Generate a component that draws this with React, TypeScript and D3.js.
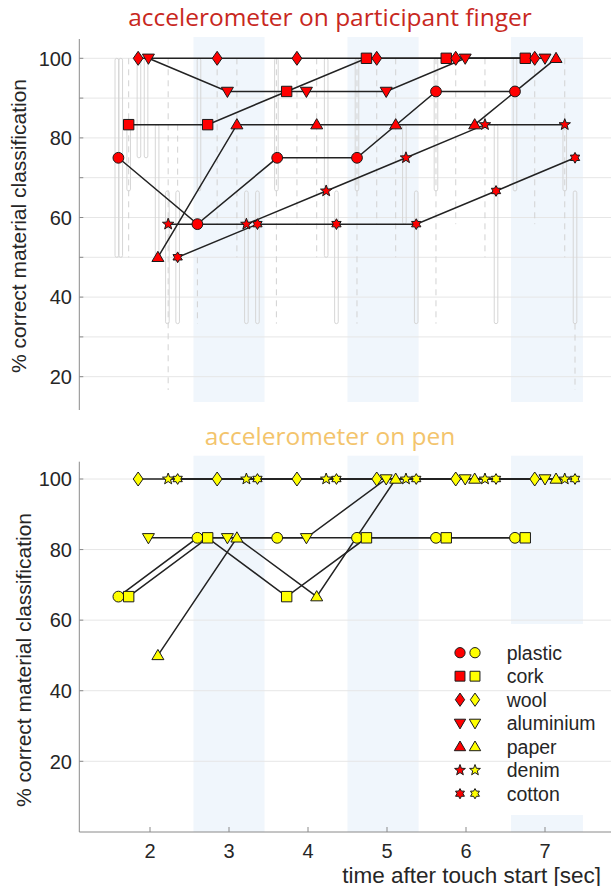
import React from 'react';
import * as d3 from 'd3';

// ---------- data ----------
const materials = ['plastic', 'cork', 'wool', 'aluminium', 'paper', 'denim', 'cotton'];
const markerShapes = ['circle', 'square', 'diamond', 'triDown', 'triUp', 'star', 'hexagram'];

const timesPlastic = [1.6, 2.6, 3.61, 4.62, 5.62, 6.62];
const timesCork = [1.73, 2.73, 3.73, 4.74, 5.75, 6.75];
const timesWool = [1.85, 2.85, 3.86, 4.87, 5.87, 6.87];
const timesAluminium = [1.98, 2.98, 3.98, 4.99, 5.99, 7.0];
const timesPaper = [2.1, 3.1, 4.11, 5.11, 6.11, 7.14];
const timesDenim = [2.23, 3.22, 4.23, 5.24, 6.24, 7.25];
const timesCotton = [2.35, 3.36, 4.36, 5.37, 6.38, 7.38];

const fingerPlastic = [75, 58.33, 75, 75, 91.67, 91.67];
const fingerCork = [83.33, 83.33, 91.67, 100, 100, 100];
const fingerWool = [100, 100, 100, 100, 100, 100];
const fingerAluminium = [100, 91.67, 91.67, 91.67, 100, 100];
const fingerPaper = [50, 83.33, 83.33, 83.33, 83.33, 100];
const fingerDenim = [58.33, 58.33, 66.67, 75, 83.33, 83.33];
const fingerCotton = [50, 58.33, 58.33, 58.33, 66.67, 75];

const penPlastic = [66.67, 83.33, 83.33, 83.33, 83.33, 83.33];
const penCork = [66.67, 83.33, 66.67, 83.33, 83.33, 83.33];
const penWool = [100, 100, 100, 100, 100, 100];
const penAluminium = [83.33, 83.33, 83.33, 100, 100, 100];
const penPaper = [50, 83.33, 66.67, 100, 100, 100];
const penDenim = [100, 100, 100, 100, 100, 100];
const penCotton = [100, 100, 100, 100, 100, 100];

const bandStart = [2.55, 4.5, 6.57];
const bandEnd = [3.45, 5.4, 7.48];

const xTicks = [2, 3, 4, 5, 6, 7];
const yTicksTop = [20, 30, 40, 50, 60, 70, 80, 90, 100];
const yLabelsTop = [20, 40, 60, 80, 100];
const yTicksBottom = [20, 40, 60, 80, 100];

// faint per-participant range capsules (top panel): time, upper %, lower %
const capsuleTime = [1.58, 1.63, 1.73, 1.86, 1.95, 2.09, 2.22, 2.35, 2.62, 3.22, 3.36, 3.6, 4.23, 4.36, 4.62, 5.22, 5.37, 5.62, 6.38, 6.62, 7.25, 7.38];
const capsuleHigh = [100, 100, 83.33, 100, 100, 83.33, 66.67, 66.67, 100, 66.67, 66.67, 100, 100, 66.67, 100, 83.33, 66.67, 100, 83.33, 100, 83.33, 66.67];
const capsuleLow = [50, 50, 66.67, 75, 75, 50, 33.33, 33.33, 66.67, 33.33, 33.33, 66.67, 50, 33.33, 66.67, 58.33, 33.33, 66.67, 33.33, 66.67, 66.67, 33.33];
// faint dashed range lines (top panel)
const dashTime = [1.73, 2.23, 2.35, 2.6, 2.85, 3.1, 3.6, 3.86, 4.11, 4.62, 4.87, 5.11, 5.62, 5.87, 6.24, 6.87, 7.25, 7.38];
const dashHigh = [100, 100, 83.33, 50, 100, 100, 100, 100, 100, 100, 100, 100, 100, 100, 100, 100, 100, 33.33];
const dashLow = [50, 16.67, 66.67, 33.33, 58.33, 50, 33.33, 58.33, 50, 33.33, 58.33, 50, 33.33, 58.33, 50, 58.33, 50, 16.67];

const matTimes = [timesPlastic, timesCork, timesWool, timesAluminium, timesPaper, timesDenim, timesCotton];
const fingerVals = [fingerPlastic, fingerCork, fingerWool, fingerAluminium, fingerPaper, fingerDenim, fingerCotton];
const penVals = [penPlastic, penCork, penWool, penAluminium, penPaper, penDenim, penCotton];

// ---------- geometry ----------
const W = 611;
const H = 886;
const AXIS_X = 79.3;
const RIGHT = 611;
const x = d3.scaleLinear().domain([2, 7]).range([150, 545]);
const yTop = d3.scaleLinear().domain([20, 100]).range([376.7, 58.3]);
const yBot = d3.scaleLinear().domain([20, 100]).range([761.3, 479]);

const RED = '#ff0000';
const YELLOW = '#ffff00';
const EDGE = '#1a1a1a';
const GRID = '#e6e6e6';
const AXIS = '#8a8a8a';
const TXT = '#262626';
const BAND = '#f0f6fc';
const FONT = '"Liberation Sans", Arial, sans-serif';
const TITLE_FONT = '"Open Sans", sans-serif';

function starPath(outer: number, inner: number, n: number) {
  const pts: [number, number][] = [];
  for (let i = 0; i < 2 * n; i++) {
    const r = i % 2 === 0 ? outer : inner;
    const a = (Math.PI * i) / n - Math.PI / 2;
    pts.push([r * Math.cos(a), r * Math.sin(a)]);
  }
  return 'M' + pts.map((p) => p[0].toFixed(2) + ',' + p[1].toFixed(2)).join('L') + 'Z';
}

function shapePath(shape: string, s = 1) {
  switch (shape) {
    case 'circle':
      return d3.symbol(d3.symbolCircle, Math.PI * 5.4 * 5.4 * s * s)() as string;
    case 'square': {
      const h = 5.2 * s;
      return `M${-h},${-h}H${h}V${h}H${-h}Z`;
    }
    case 'diamond':
      return `M0,${-7 * s}L${4.9 * s},0L0,${7 * s}L${-4.9 * s},0Z`;
    case 'triDown':
      return `M${-6 * s},${-4.2 * s}L${6 * s},${-4.2 * s}L0,${6 * s}Z`;
    case 'triUp':
      return `M0,${-6 * s}L${6 * s},${4.2 * s}L${-6 * s},${4.2 * s}Z`;
    case 'star':
      return starPath(6 * s, 2.5 * s, 5);
    case 'hexagram':
      return starPath(5.4 * s, 3.1 * s, 6);
    default:
      return '';
  }
}

function Panel({ vals, y, fill }: { vals: number[][]; y: d3.ScaleLinear<number, number>; fill: string }) {
  const line = d3
    .line<[number, number]>()
    .x((d) => x(d[0]))
    .y((d) => y(d[1]));
  return (
    <g>
      {vals.map((v, m) => (
        <path
          key={'l' + m}
          d={line(matTimes[m].map((t, i) => [t, v[i]] as [number, number])) as string}
          fill="none"
          stroke="#222"
          strokeWidth={1.5}
        />
      ))}
      {vals.map((v, m) =>
        v.map((val, i) => (
          <path
            key={'m' + m + '-' + i}
            d={shapePath(markerShapes[m])}
            transform={`translate(${x(matTimes[m][i])},${y(val)})`}
            fill={fill}
            stroke={EDGE}
            strokeWidth={1}
          />
        ))
      )}
    </g>
  );
}

export default function App() {
  const legendY0 = 652.7;
  const legendDy = 23.5;
  return (
    <svg width={W} height={H} style={{ display: 'block', position: 'absolute', left: 0, top: 0 }}>
      <rect x={0} y={0} width={W} height={H} fill="#fff" />

      {/* bands top */}
      {bandStart.map((b, i) => (
        <rect key={'bt' + i} x={x(b)} y={37} width={x(bandEnd[i]) - x(b)} height={402 - 37} fill={BAND} />
      ))}
      {/* bands bottom */}
      {bandStart.map((b, i) =>
        i < 2 ? (
          <rect key={'bb' + i} x={x(b)} y={455.7} width={x(bandEnd[i]) - x(b)} height={832 - 455.7} fill={BAND} />
        ) : (
          <g key={'bb' + i}>
            <rect x={x(b)} y={455.7} width={x(bandEnd[i]) - x(b)} height={624 - 455.7} fill={BAND} />
            <rect x={x(b)} y={815} width={x(bandEnd[i]) - x(b)} height={832 - 815} fill={BAND} />
          </g>
        )
      )}

      {/* grid top */}
      {yTicksTop.map((t) => (
        <line key={'gt' + t} x1={AXIS_X} x2={RIGHT} y1={yTop(t)} y2={yTop(t)} stroke={GRID} strokeWidth={1} />
      ))}
      {/* grid bottom */}
      {yTicksBottom.map((t) => (
        <line key={'gb' + t} x1={AXIS_X} x2={RIGHT} y1={yBot(t)} y2={yBot(t)} stroke={GRID} strokeWidth={1} />
      ))}

      {/* faint ranges top */}
      {capsuleTime.map((t, i) => (
        <rect
          key={'cap' + i}
          x={x(t) - 1.8}
          y={yTop(capsuleHigh[i])}
          width={3.6}
          height={yTop(capsuleLow[i]) - yTop(capsuleHigh[i])}
          rx={1.8}
          fill="none"
          stroke="#d6d6d6"
          strokeWidth={1}
        />
      ))}
      {dashTime.map((t, i) => (
        <line
          key={'dash' + i}
          x1={x(t)}
          x2={x(t)}
          y1={yTop(dashHigh[i])}
          y2={yTop(dashLow[i])}
          stroke="#d2d2d2"
          strokeWidth={1}
          strokeDasharray="6,5"
        />
      ))}

      {/* axes top */}
      <line x1={AXIS_X} x2={AXIS_X} y1={39} y2={410} stroke={AXIS} strokeWidth={1} />
      {yTicksTop.map((t) => (
        <line key={'tt' + t} x1={AXIS_X} x2={AXIS_X + 4} y1={yTop(t)} y2={yTop(t)} stroke={AXIS} />
      ))}
      {yLabelsTop.map((t) => (
        <text key={'lt' + t} x={72} y={yTop(t)} dy="0.36em" textAnchor="end" fontFamily={FONT} fontSize={20} fill={TXT}>
          {t}
        </text>
      ))}
      <text
        transform={`translate(18,226) rotate(-90)`}
        textAnchor="middle"
        dy="0.36em"
        fontFamily={FONT}
        fontSize={21}
        fill={TXT}
      >
        % correct material classification
      </text>

      {/* axes bottom */}
      <line x1={AXIS_X} x2={AXIS_X} y1={461.7} y2={832} stroke={AXIS} strokeWidth={1} />
      <line x1={AXIS_X} x2={RIGHT} y1={832} y2={832} stroke={AXIS} strokeWidth={1} />
      {yTicksBottom.map((t) => (
        <line key={'tb' + t} x1={AXIS_X} x2={AXIS_X + 4} y1={yBot(t)} y2={yBot(t)} stroke={AXIS} />
      ))}
      {yTicksBottom.map((t) => (
        <text key={'lb' + t} x={72} y={yBot(t)} dy="0.36em" textAnchor="end" fontFamily={FONT} fontSize={20} fill={TXT}>
          {t}
        </text>
      ))}
      {xTicks.map((t) => (
        <g key={'xt' + t}>
          <line x1={x(t)} x2={x(t)} y1={832} y2={827} stroke={AXIS} />
          <text x={x(t)} y={858} textAnchor="middle" fontFamily={FONT} fontSize={20} fill={TXT}>
            {t}
          </text>
        </g>
      ))}
      <text x={601} y={882.5} textAnchor="end" fontFamily={FONT} fontSize={22.5} fill={TXT}>
        time after touch start [sec]
      </text>
      <text
        transform={`translate(23,660) rotate(-90)`}
        textAnchor="middle"
        dy="0.36em"
        fontFamily={FONT}
        fontSize={21}
        fill={TXT}
      >
        % correct material classification
      </text>

      {/* data */}
      <Panel vals={fingerVals} y={yTop} fill={RED} />
      <Panel vals={penVals} y={yBot} fill={YELLOW} />

      {/* titles */}
      <text x={330} y={26} textAnchor="middle" fontFamily={TITLE_FONT} fontSize={24.5} fill="#c8281e">
        accelerometer on participant finger
      </text>
      <text x={330} y={445} textAnchor="middle" fontFamily={TITLE_FONT} fontSize={24.5} fill="#f3c46c">
        accelerometer on pen
      </text>

      {/* legend */}
      {materials.map((m, i) => (
        <g key={'lg' + m} transform={`translate(0,${legendY0 + i * legendDy})`}>
          <path d={shapePath(markerShapes[i], 0.95)} transform="translate(460,0)" fill={RED} stroke={EDGE} />
          <path d={shapePath(markerShapes[i], 0.95)} transform="translate(475,0)" fill={YELLOW} stroke={EDGE} />
          <text x={506.7} y={0} dy="0.36em" fontFamily={FONT} fontSize={19.5} fill={TXT}>
            {m}
          </text>
        </g>
      ))}
    </svg>
  );
}
